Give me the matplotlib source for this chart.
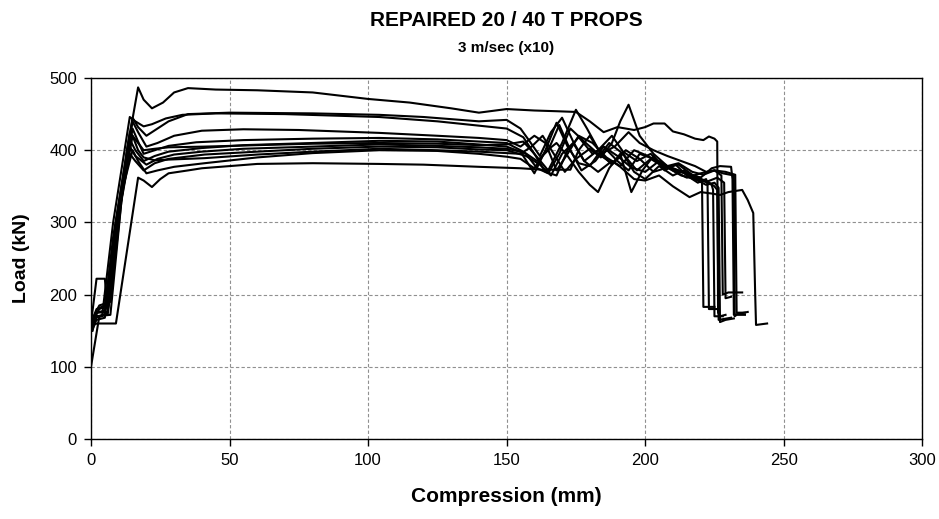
import matplotlib
matplotlib.use('Agg')
import matplotlib.pyplot as plt

# ---- test curves: compression (mm) vs load (kN) ----
x1 = [0.5, 2, 6, 9, 13, 17, 19, 22, 26, 30, 35, 45, 60, 80, 100, 115, 130, 140, 150, 160, 168, 175, 180, 185, 190, 196, 200, 203, 207, 210, 214, 218, 221, 223, 225, 226, 226.3, 227, 229]
y1 = [150, 170, 172, 260, 400, 487, 470, 458, 466, 480, 486, 484, 483, 480, 471, 466, 458, 452, 457, 455, 454, 453, 440, 425, 432, 428, 432, 437, 437, 426, 422, 416, 414, 419, 416, 412, 175, 170, 172]

x2 = [0, 2, 5, 8, 15, 17, 20, 24, 28, 35, 50, 80, 104, 120, 140, 150, 155, 158, 162, 166, 170, 174, 178, 183, 188, 192, 197, 202, 206, 211, 216, 220, 220.5, 221, 225]
y2 = [160, 175, 178, 280, 445, 432, 420, 430, 440, 450, 452, 451, 449, 446, 440, 442, 430, 414, 392, 425, 445, 412, 385, 400, 420, 398, 385, 395, 380, 372, 366, 362, 358, 183, 183]

x3 = [0, 1.5, 4, 8, 14, 16, 19, 22, 27, 33, 45, 70, 104, 125, 140, 150, 156, 160, 165, 170, 175, 179, 184, 189, 194, 198, 203, 208, 213, 218, 222, 225, 227.5, 228, 230, 235]
y3 = [155, 168, 170, 300, 446, 440, 433, 436, 444, 449, 451, 450, 446, 440, 434, 430, 418, 395, 372, 410, 456, 430, 395, 405, 425, 410, 400, 392, 385, 378, 370, 372, 365, 200, 203, 203]

x4 = [0, 2, 5, 9, 15, 17, 20, 24, 30, 40, 55, 75, 104, 125, 140, 150, 155, 160, 164, 168, 172, 176, 181, 186, 191, 196, 201, 205, 210, 215, 220, 224, 227, 231, 231.5, 232, 237]
y4 = [150, 165, 168, 300, 440, 425, 405, 410, 420, 427, 429, 428, 424, 420, 417, 414, 405, 420, 410, 372, 395, 420, 410, 390, 378, 400, 392, 382, 375, 368, 362, 375, 378, 377, 360, 172, 176]

x5 = [0, 3, 6, 10, 15, 17, 19, 23, 28, 38, 55, 80, 104, 125, 140, 150, 156, 161, 165, 169, 173, 177, 182, 187, 192, 197, 202, 207, 212, 217, 221, 224, 224.5, 225, 228]
y5 = [100, 170, 175, 310, 430, 412, 395, 400, 406, 411, 414, 416, 417, 415, 412, 410, 398, 385, 400, 435, 400, 372, 385, 410, 395, 372, 388, 376, 380, 366, 358, 352, 345, 170, 170]

x6 = [0, 2, 5, 6, 9, 14, 16, 19, 23, 28, 40, 55, 80, 104, 125, 140, 150, 157, 161, 165, 169, 173, 178, 183, 188, 193, 198, 203, 208, 213, 218, 222, 225, 226.5, 227, 229, 232]
y6 = [160, 222, 222, 180, 280, 415, 400, 385, 392, 398, 403, 407, 410, 413, 412, 408, 405, 395, 375, 368, 395, 430, 412, 395, 382, 400, 388, 370, 376, 365, 360, 352, 355, 348, 162, 165, 167]

x7 = [1, 3, 6, 10, 14, 16, 20, 24, 30, 40, 55, 80, 104, 125, 140, 150, 155, 160, 164, 168, 172, 176, 180, 185, 190, 195, 200, 205, 210, 215, 220, 225, 229, 232.5, 233, 236]
y7 = [165, 180, 185, 320, 405, 392, 380, 388, 394, 398, 402, 405, 408, 406, 404, 402, 398, 368, 400, 438, 405, 382, 378, 405, 392, 376, 370, 385, 372, 362, 368, 372, 370, 366, 175, 175]

x8 = [0.5, 2, 7, 11, 14, 16, 19, 23, 28, 41, 60, 80, 104, 125, 140, 150, 157, 162, 166, 170, 174, 178, 183, 188, 191, 196, 200, 205, 210, 216, 220, 224, 227, 230, 235, 237, 239, 239.7, 240, 244]
y8 = [150, 170, 172, 330, 395, 385, 372, 382, 388, 394, 398, 402, 405, 404, 401, 400, 392, 380, 365, 395, 410, 385, 370, 385, 377, 360, 358, 365, 350, 335, 342, 340, 338, 342, 345, 331, 313, 200, 158, 160]

x9 = [0, 2, 6, 10, 15, 17, 19, 23, 28, 41, 60, 80, 104, 125, 140, 150, 155, 159, 163, 167, 171, 175, 180, 184, 188, 191, 194, 198, 203, 208, 213, 218, 222, 225, 226, 226.5, 231]
y9 = [160, 175, 176, 310, 420, 400, 390, 386, 387, 389, 394, 398, 402, 400, 398, 396, 395, 405, 420, 395, 370, 388, 402, 390, 410, 440, 463, 420, 395, 378, 370, 362, 358, 350, 345, 165, 168]

x10 = [1, 3, 7, 11, 15, 17, 20, 24, 30, 41, 60, 80, 104, 125, 140, 150, 155, 160, 164, 168, 172, 176, 180, 183, 187, 191, 195, 199, 203, 207, 211, 215, 219, 222, 222.5, 223, 226]
y10 = [170, 185, 190, 340, 400, 385, 368, 372, 377, 382, 390, 396, 400, 399, 395, 391, 388, 375, 398, 410, 392, 370, 352, 342, 375, 395, 342, 372, 392, 372, 380, 365, 355, 360, 352, 180, 180]

x11 = [0, 2, 9, 17, 19, 22, 25, 28, 35, 40, 50, 60, 80, 104, 120, 140, 155, 163, 168, 173, 176, 180, 184, 188, 192, 196, 200, 205, 210, 214, 218, 222, 226, 228.5, 229, 231]
y11 = [155, 160, 160, 362, 358, 349, 360, 368, 372, 375, 378, 381, 382, 381, 380, 377, 375, 373, 373, 373, 400, 420, 395, 380, 395, 370, 360, 378, 365, 372, 360, 356, 362, 355, 195, 197]

x12 = [0, 2, 5, 9, 14, 16, 19, 23, 28, 41, 60, 80, 104, 125, 140, 150, 156, 160, 164, 168, 172, 176, 181, 185, 190, 194, 198, 203, 208, 212, 217, 221, 225, 228, 232, 232.3, 233, 236]
y12 = [160, 180, 185, 300, 425, 415, 400, 402, 404, 405, 407, 409, 410, 409, 407, 408, 412, 395, 370, 365, 400, 418, 395, 405, 385, 372, 395, 388, 378, 382, 370, 366, 372, 368, 365, 170, 172, 172]

curves = [(x1, y1), (x2, y2), (x3, y3), (x4, y4), (x5, y5), (x6, y6),
          (x7, y7), (x8, y8), (x9, y9), (x10, y10), (x11, y11), (x12, y12)]

xticks = [0, 50, 100, 150, 200, 250, 300]
yticks = [0, 100, 200, 300, 400, 500]

plt.rcParams.update({
    'font.family': ['Liberation Sans', 'DejaVu Sans'],
    'xtick.labelsize': 12,
    'ytick.labelsize': 12,
})

fig = plt.figure(figsize=(9.39, 5.19), dpi=100)
ax = fig.add_axes([0.0969, 0.1541, 0.8853, 0.6956])

for cx, cy in curves:
    ax.plot(cx, cy, color='black', lw=1.5)

ax.set_xlim(0, 300)
ax.set_ylim(0, 500)
ax.set_xticks(xticks)
ax.set_yticks(yticks)
ax.grid(True, color='#909090', linestyle=(0, (3, 2)), lw=0.8)
ax.set_axisbelow(True)
ax.tick_params(direction='out', length=5, width=1, colors='black', pad=5)
for sp in ax.spines.values():
    sp.set_linewidth(1.0)

ax.set_xlabel('Compression (mm)', fontsize=15, fontweight='bold', labelpad=14)
ax.set_ylabel('Load (kN)', fontsize=14, fontweight='bold', labelpad=14)

fig.text(0.539, 0.960, 'REPAIRED 20 / 40 T PROPS', ha='center', va='center',
         fontsize=15, fontweight='bold')
fig.text(0.539, 0.907, '3 m/sec (x10)', ha='center', va='center',
         fontsize=11, fontweight='bold')

fig.savefig('out.png', dpi=100)
